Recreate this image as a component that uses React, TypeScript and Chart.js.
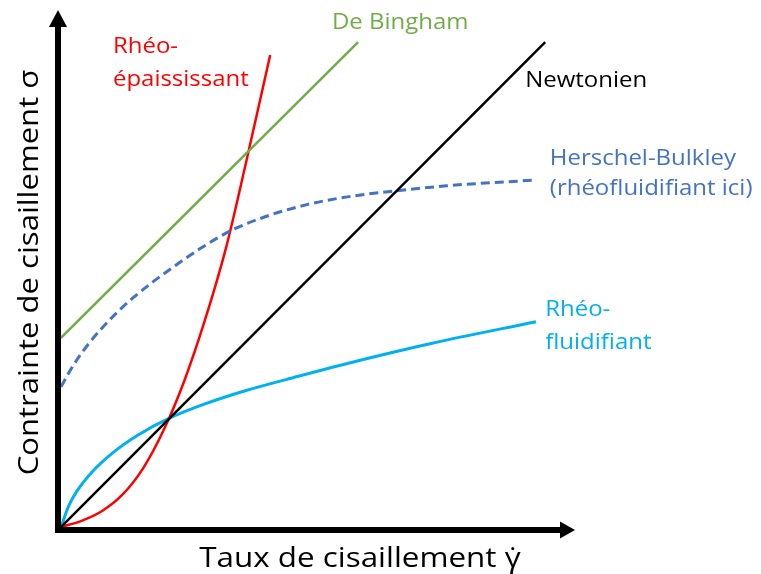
import React, { useEffect, useRef } from "react";
import { Chart, registerables } from "chart.js";

Chart.register(...registerables);

// Shear rate (x) / shear stress (y), arbitrary units 0..100
const newtonX = [0, 94.2];
const newtonY = [0, 93.8];

const binghamX = [0, 57.8];
const binghamY = [36.6, 93.8];

const thickX = [0, 4, 8, 12, 16, 20, 24, 28, 32, 36, 40.7];
const thickY = [0, 1.2, 3.1, 6.3, 11.4, 18.8, 28.3, 40.0, 53.6, 70.5, 91.3];

const hbX = [0, 1.5, 3, 5.5, 8, 11, 14.1, 18, 22, 27, 33, 40, 48, 56, 65, 75, 92.2];
const hbY = [27.1, 29.8, 32.2, 35.6, 38.5, 41.6, 44.4, 47.5, 50.4, 53.8, 57.3, 60.1, 62.4, 63.9, 65.0, 66.0, 67.1];

const thinX = [0, 1.5, 3, 6, 10, 15, 21, 28, 36, 46, 58, 72, 92.4];
const thinY = [0, 4.1, 6.8, 10.6, 14.3, 17.8, 21.0, 23.8, 26.4, 29.1, 32.2, 35.5, 39.7];

const xTitle = "Taux de cisaillement \u03B3\u0307";
const yTitle = "Contrainte de cisaillement \u03C3";

const labelTexts = [
  ["De Bingham"],
  ["Rh\u00E9o-", "\u00E9paississant"],
  ["Newtonien"],
  ["Herschel-Bulkley", "(rh\u00E9ofluidifiant ici)"],
  ["Rh\u00E9o-", "fluidifiant"],
];

const FONT = '"Open Sans", "Noto Sans", sans-serif';

const toPts = (xs: number[], ys: number[]) => xs.map((x, i) => ({ x, y: ys[i] }));

export default function App() {
  const ref = useRef<HTMLCanvasElement | null>(null);

  useEffect(() => {
    if (!ref.current) return;

    const decor = {
      id: "decor",
      beforeDatasetsDraw(chart: any) {
        const { ctx, chartArea } = chart;
        const ax = chartArea.left - 3;
        const ay = chartArea.bottom + 3;
        ctx.save();
        ctx.fillStyle = "#000";
        ctx.strokeStyle = "#000";
        ctx.lineWidth = 6;
        ctx.lineCap = "butt";
        // y axis
        ctx.beginPath();
        ctx.moveTo(ax, ay + 3);
        ctx.lineTo(ax, chartArea.top + 16);
        ctx.stroke();
        ctx.beginPath();
        ctx.moveTo(ax, chartArea.top);
        ctx.lineTo(ax - 9, chartArea.top + 17);
        ctx.lineTo(ax + 9, chartArea.top + 17);
        ctx.closePath();
        ctx.fill();
        // x axis
        ctx.beginPath();
        ctx.moveTo(ax - 3, ay);
        ctx.lineTo(chartArea.right - 14, ay);
        ctx.stroke();
        ctx.beginPath();
        ctx.moveTo(chartArea.right, ay);
        ctx.lineTo(chartArea.right - 15, ay - 8.5);
        ctx.lineTo(chartArea.right - 15, ay + 8.5);
        ctx.closePath();
        ctx.fill();
        ctx.restore();
      },
      afterDraw(chart: any) {
        const { ctx, chartArea, scales } = chart;
        const xs = scales.x;
        const ys = scales.y;
        const stretchText = (t: string, px: number, py: number, sx: number) => {
          ctx.save();
          ctx.translate(px, py);
          ctx.scale(sx, 1);
          ctx.fillText(t, 0, 0);
          ctx.restore();
        };
        ctx.save();
        ctx.textBaseline = "alphabetic";
        ctx.textAlign = "left";
        const put = (lines: string[], x: number, y: number, color: string, dy: number) => {
          ctx.fillStyle = color;
          ctx.font = `22px ${FONT}`;
          lines.forEach((t, i) => {
            stretchText(t, xs.getPixelForValue(x), ys.getPixelForValue(y) + i * dy, 1.09);
          });
        };
        put(labelTexts[0], 52.7, 96.3, "#70AD47", 33);
        put(labelTexts[1], 10.1, 91.7, "#FF0000", 33);
        put(labelTexts[2], 90.3, 85.1, "#000000", 33);
        put(labelTexts[3], 95.1, 70.0, "#4472C4", 30);
        put(labelTexts[4], 94.2, 40.8, "#00B0F0", 33);

        // axis titles
        ctx.fillStyle = "#000";
        ctx.font = `28px ${FONT}`;
        ctx.textAlign = "center";
        stretchText(xTitle, (chartArea.left + chartArea.right) / 2 + 42, chartArea.bottom + 40, 1.12);
        ctx.save();
        ctx.translate(chartArea.left - 23, (chartArea.top + chartArea.bottom) / 2 + 4);
        ctx.rotate(-Math.PI / 2);
        ctx.scale(1.11, 1);
        ctx.fillText(yTitle, 0, 0);
        ctx.restore();
        ctx.restore();
      },
    };

    const common = { pointRadius: 0, fill: false, borderCapStyle: "butt" as const };

    const chart = new Chart(ref.current, {
      type: "line",
      data: {
        datasets: [
          { ...common, label: "Newtonien", data: toPts(newtonX, newtonY), borderColor: "#000000", borderWidth: 2.5 },
          { ...common, label: "De Bingham", data: toPts(binghamX, binghamY), borderColor: "#70AD47", borderWidth: 2.5 },
          {
            ...common,
            label: "Herschel-Bulkley",
            data: toPts(hbX, hbY),
            borderColor: "#4472C4",
            borderWidth: 3,
            borderDash: [9, 5],
            cubicInterpolationMode: "monotone",
          },
          {
            ...common,
            label: "Rhéo-fluidifiant",
            data: toPts(thinX, thinY),
            borderColor: "#00B0F0",
            borderWidth: 3,
            cubicInterpolationMode: "monotone",
          },
          {
            ...common,
            label: "Rhéo-épaississant",
            data: toPts(thickX, thickY),
            borderColor: "#FF0000",
            borderWidth: 2.5,
            cubicInterpolationMode: "monotone",
          },
        ],
      },
      options: {
        animation: false,
        responsive: true,
        maintainAspectRatio: false,
        layout: { padding: { left: 61, top: 10, right: 186, bottom: 47 } },
        plugins: { legend: { display: false }, tooltip: { enabled: false } },
        scales: {
          x: { type: "linear", min: 0, max: 100, display: false },
          y: { type: "linear", min: 0, max: 100, display: false },
        },
      },
      plugins: [decor],
    });
    return () => chart.destroy();
  }, []);

  return (
    <div style={{ position: "absolute", left: 0, top: 0, width: 761, height: 574, background: "#fff" }}>
      <canvas ref={ref} />
    </div>
  );
}
